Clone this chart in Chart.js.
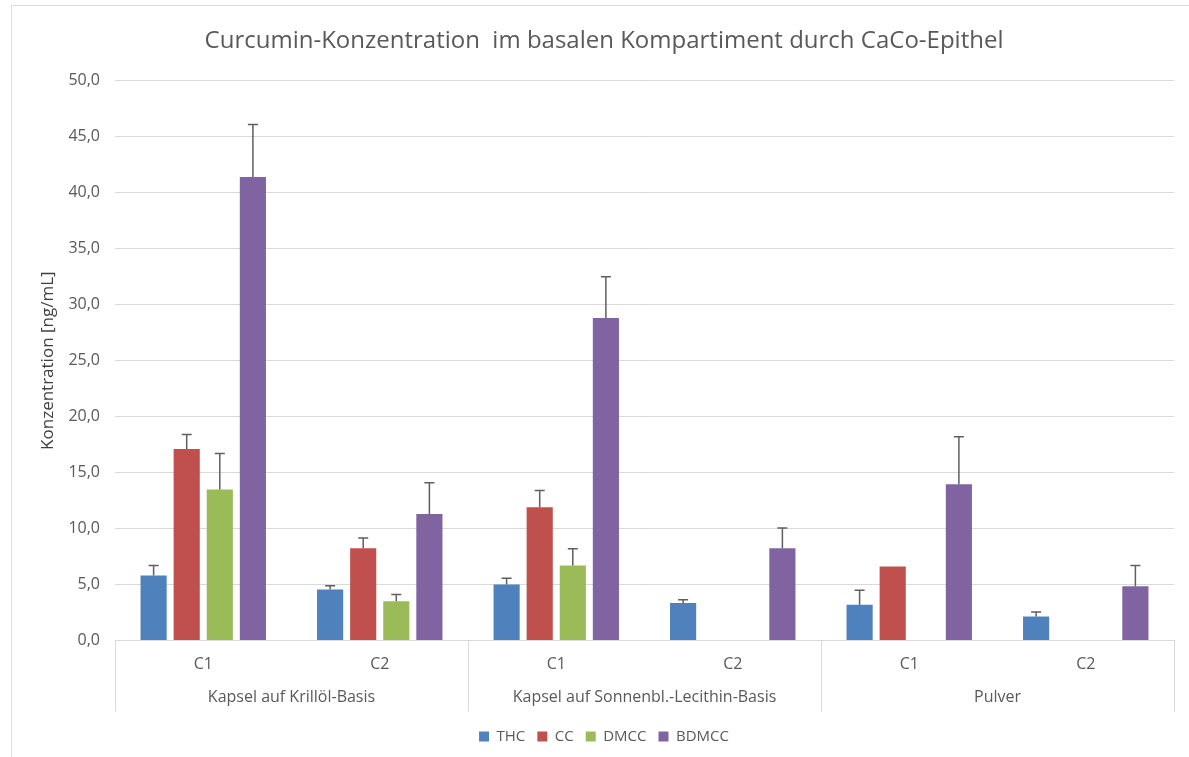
<!DOCTYPE html>
<html>
<head>
<meta charset="utf-8">
<script src="https://cdn.jsdelivr.net/npm/chart.js@4"></script>
<style>
  html, body { margin: 0; padding: 0; background: #ffffff; }
  #wrap { position: relative; width: 1189px; height: 757px; overflow: hidden; }
  #frame { position: absolute; left: 11px; top: 5px; width: 1300px; height: 900px;
           border-left: 1px solid #dedede; border-top: 1px solid #dedede; }
  canvas { position: absolute; left: 0; top: 0; }
</style>
</head>
<body>
<div id="wrap">
  <div id="frame"></div>
  <canvas id="c" width="1189" height="757"></canvas>
</div>
<script>
const categories = ['C1', 'C2', 'C1', 'C2', 'C1', 'C2'];
const groups = ['Kapsel auf Krillöl-Basis', 'Kapsel auf Sonnenbl.-Lecithin-Basis', 'Pulver'];
const yTicks = [0, 5, 10, 15, 20, 25, 30, 35, 40, 45, 50];

const thc      = [5.8, 4.55, 5.0, 3.35, 3.2, 2.15];
const thcErr   = [0.9, 0.35, 0.55, 0.3, 1.3, 0.4];
const cc       = [17.1, 8.25, 11.9, null, 6.6, null];
const ccErr    = [1.3, 0.9, 1.5, 0, 0, 0];
const dmcc     = [13.5, 3.5, 6.7, null, null, null];
const dmccErr  = [3.2, 0.6, 1.5, 0, 0, 0];
const bdmcc    = [41.4, 11.3, 28.8, 8.25, 13.95, 4.85];
const bdmccErr = [4.7, 2.8, 3.7, 1.8, 4.25, 1.85];

const FONT = "'Open Sans', sans-serif";
const GREY = '#595959';
const LINE = '#d9d9d9';

const errorBars = {
  id: 'errorBars',
  afterDatasetsDraw(chart) {
    const ctx = chart.ctx;
    const y = chart.scales.y;
    ctx.save();
    ctx.strokeStyle = '#5f5f5f';
    ctx.lineWidth = 1.5;
    chart.data.datasets.forEach((ds, i) => {
      const meta = chart.getDatasetMeta(i);
      if (meta.hidden) return;
      meta.data.forEach((el, j) => {
        const v = ds.data[j];
        const e = ds.errors[j];
        if (v === null || !e) return;
        const top = y.getPixelForValue(v + e);
        ctx.beginPath();
        ctx.moveTo(el.x, el.y);
        ctx.lineTo(el.x, top);
        ctx.moveTo(el.x - 5, top);
        ctx.lineTo(el.x + 5, top);
        ctx.stroke();
      });
    });
    ctx.restore();
  }
};

const groupLines = {
  id: 'groupLines',
  afterDraw(chart) {
    const ctx = chart.ctx;
    const x = chart.scales.x;
    const n = groups.length;
    const w = (x.right - x.left) / n;
    ctx.save();
    ctx.strokeStyle = LINE;
    ctx.lineWidth = 1;
    for (let k = 0; k <= n; k++) {
      const px = Math.round(x.left + k * w) + 0.5;
      ctx.beginPath();
      ctx.moveTo(px, chart.chartArea.bottom);
      ctx.lineTo(px, chart.chartArea.bottom + 71);
      ctx.stroke();
    }
    ctx.restore();
  }
};

function mk(label, data, errors, color) {
  return {
    label, data, errors,
    backgroundColor: color,
    borderColor: color,
    borderWidth: 0,
    categoryPercentage: 0.75,
    barPercentage: 0.79,
    xAxisID: 'x'
  };
}

new Chart(document.getElementById('c'), {
  type: 'bar',
  data: {
    labels: categories,
    datasets: [
      mk('THC', thc, thcErr, '#4f81bd'),
      mk('CC', cc, ccErr, '#c0504d'),
      mk('DMCC', dmcc, dmccErr, '#9bbb59'),
      mk('BDMCC', bdmcc, bdmccErr, '#8064a2')
    ]
  },
  options: {
    responsive: false,
    animation: false,
    layout: { padding: { left: 34, right: 15, top: 0, bottom: 3 } },
    plugins: {
      tooltip: { enabled: false },
      title: {
        display: true,
        text: 'Curcumin-Konzentration  im basalen Kompartiment durch CaCo-Epithel',
        color: GREY,
        font: { family: FONT, size: 24, weight: 'normal' },
        padding: { top: 27, bottom: 25 }
      },
      legend: {
        position: 'bottom',
        labels: {
          color: GREY,
          font: { family: FONT, size: 15 },
          boxWidth: 10,
          boxHeight: 10,
          padding: 12
        }
      }
    },
    scales: {
      y: {
        min: 0,
        max: 50,
        afterFit(scale) { scale.width = 81; },
        afterBuildTicks(scale) { scale.ticks = yTicks.map(v => ({ value: v })); },
        grid: { color: LINE, drawTicks: false, lineWidth: 1 },
        border: { display: false },
        ticks: {
          color: GREY,
          font: { family: FONT, size: 16 },
          padding: 15,
          callback: v => Number(v).toFixed(1).replace('.', ',')
        },
        title: {
          display: true,
          text: 'Konzentration [ng/mL]',
          color: '#404040',
          font: { family: FONT, size: 17 },
          padding: { top: 4, bottom: 0 }
        }
      },
      x: {
        position: 'bottom',
        afterFit(scale) { scale.height = 40; },
        grid: { display: false, drawTicks: false },
        border: { display: true, color: LINE, width: 1 },
        ticks: {
          color: GREY,
          font: { family: FONT, size: 16 },
          padding: 14,
          maxRotation: 0
        }
      },
      x2: {
        type: 'category',
        position: 'bottom',
        labels: groups,
        offset: true,
        afterFit(scale) { scale.height = 36.5; },
        grid: { display: false, drawTicks: false },
        border: { display: false },
        ticks: {
          color: GREY,
          font: { family: FONT, size: 16 },
          padding: 7.5,
          maxRotation: 0,
          autoSkip: false
        }
      }
    }
  },
  plugins: [errorBars, groupLines]
});
</script>
</body>
</html>
